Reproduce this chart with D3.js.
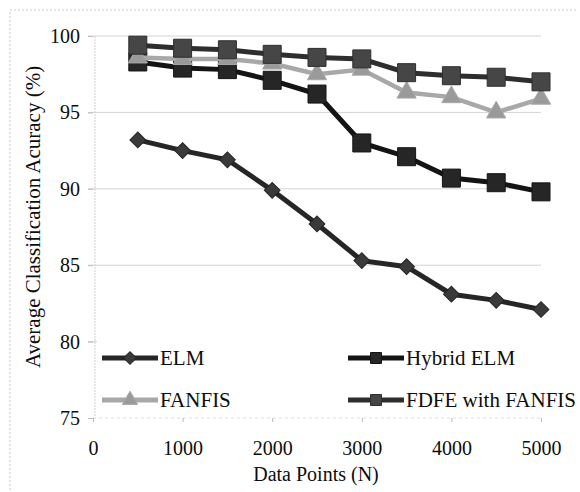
<!DOCTYPE html>
<html lang="en">
<head>
<meta charset="utf-8">
<title>Average Classification Accuracy</title>
<script src="https://d3js.org/d3.v7.min.js"></script>
<style>
  body { margin: 0; background: #fff; }
  #chart text { font-family: "Liberation Serif", "Times New Roman", serif; fill: #0d0d0d; }
  .axis path { display: none; }
  .axis line { stroke: #bbb; }
</style>
</head>
<body>
<div id="chart"></div>
<script>
"use strict"

// data
var points = [500, 1000, 1500, 2000, 2500, 3000, 3500, 4000, 4500, 5000];
var elm    = [93.2, 92.5, 91.9, 89.9, 87.7, 85.3, 84.9, 83.1, 82.7, 82.1];
var hybrid = [98.3, 97.9, 97.8, 97.1, 96.2, 93.0, 92.1, 90.7, 90.4, 89.8];
var fanfis = [98.6, 98.5, 98.5, 98.2, 97.5, 97.8, 96.3, 96.0, 95.0, 95.9];
var fdfe   = [99.4, 99.2, 99.1, 98.8, 98.6, 98.5, 97.6, 97.4, 97.3, 97.0];
var xTicks = [0, 1000, 2000, 3000, 4000, 5000];
var yTicks = [75, 80, 85, 90, 95, 100];

var series = [
  {name: "ELM",              values: elm,    line: "#262626", fill: "#3a3a3a", shape: "diamond"},
  {name: "Hybrid ELM",       values: hybrid, line: "#141414", fill: "#262626", shape: "square"},
  {name: "FANFIS",           values: fanfis, line: "#a8a8a8", fill: "#9a9a9a", shape: "triangle"},
  {name: "FDFE with FANFIS", values: fdfe,   line: "#2e2e2e", fill: "#464646", shape: "square"}
];

var W = 580, H = 492;
var svg = d3.select('#chart').append('svg')
  .attr('width', W).attr('height', H);

var x = d3.scaleLinear().domain([0, 5000]).range([93, 541]);
var y = d3.scaleLinear().domain([75, 100]).range([418, 36]);

// outer dotted frame (only left and top visible)
svg.append('path')
  .attr('d', 'M10,490 L10,10 L578,10')
  .attr('fill', 'none').attr('stroke', '#c8c8c8').attr('stroke-dasharray', '2,2');

// grid
svg.append('g').selectAll('line')
  .data(yTicks.filter(d => d > 75))
  .enter().append('line')
    .attr('x1', 88).attr('x2', 541)
    .attr('y1', d => y(d)).attr('y2', d => y(d))
    .attr('stroke', '#d4d4d4');

// axis lines
svg.append('line')
  .attr('x1', 95).attr('x2', 95).attr('y1', 36).attr('y2', 418)
  .attr('stroke', '#cfcfcf').attr('stroke-dasharray', '2,1');
svg.append('line')
  .attr('x1', 93).attr('x2', 541).attr('y1', 418).attr('y2', 418)
  .attr('stroke', '#dcdcdc').attr('stroke-dasharray', '3,3');

// axes
svg.append('g').attr('class', 'axis')
  .attr('transform', 'translate(93,0)')
  .call(d3.axisLeft(y).tickValues(yTicks).tickSize(5).tickPadding(8))
  .selectAll('text').style('font-size', '20px');

svg.append('g').attr('class', 'axis')
  .attr('transform', 'translate(0,418)')
  .call(d3.axisBottom(x).tickValues(xTicks).tickFormat(d3.format('d')).tickSize(4).tickPadding(19))
  .selectAll('text').style('font-size', '20px');

svg.append('text')
  .attr('x', 316).attr('y', 481)
  .attr('text-anchor', 'middle')
  .style('font-size', '20px')
  .text('Data Points (N)');

svg.append('text')
  .attr('transform', 'translate(40,217) rotate(-90)')
  .attr('text-anchor', 'middle')
  .style('font-size', '21px')
  .text('Average Classification Acuracy (%)');

// markers
function marker(shape) {
  if (shape === 'square') return d3.symbol(d3.symbolSquare, 324)();
  if (shape === 'triangle') return d3.symbol(d3.symbolTriangle, 160)();
  return d3.symbol(d3.symbolSquare, 125)();
}
function markerRot(shape) { return shape === 'diamond' ? ' rotate(45)' : ''; }

var line = d3.line().x(d => x(d[0])).y(d => y(d[1]));

series.forEach(function (s) {
  var pts = points.map((p, i) => [p, s.values[i]]);
  var g = svg.append('g');
  g.append('path')
    .attr('d', line(pts))
    .attr('fill', 'none')
    .attr('stroke', s.line)
    .attr('stroke-width', s.shape === 'triangle' ? 4.5 : 5);
  g.selectAll('path.m')
    .data(pts)
    .enter().append('path')
      .attr('class', 'm')
      .attr('d', marker(s.shape))
      .attr('transform', d => 'translate(' + x(d[0]) + ',' + y(d[1]) + ')' + markerRot(s.shape))
      .attr('fill', s.fill)
      .attr('stroke', s.line)
      .attr('stroke-width', 1);
});

// legend
svg.append('rect')
  .attr('x', 97).attr('y', 334).attr('width', 444).attr('height', 82)
  .attr('fill', '#fff');

var legendPos = [[102, 358], [348, 358], [102, 400], [348, 400]];
series.forEach(function (s, i) {
  var lx = legendPos[i][0], ly = legendPos[i][1];
  var g = svg.append('g').attr('transform', 'translate(' + lx + ',' + ly + ')');
  g.append('line')
    .attr('x1', 0).attr('x2', 56).attr('y1', 0).attr('y2', 0)
    .attr('stroke', s.line).attr('stroke-width', 5);
  var ms = s.shape === 'square' ? d3.symbol(d3.symbolSquare, 120)()
         : s.shape === 'triangle' ? d3.symbol(d3.symbolTriangle, 100)()
         : d3.symbol(d3.symbolSquare, 80)();
  g.append('path')
    .attr('d', ms)
    .attr('transform', 'translate(28,0)' + markerRot(s.shape))
    .attr('fill', s.fill).attr('stroke', s.line);
  g.append('text')
    .attr('x', 58).attr('y', 0).attr('dy', '0.35em')
    .style('font-size', '21px')
    .text(s.name);
});
</script>
</body>
</html>
